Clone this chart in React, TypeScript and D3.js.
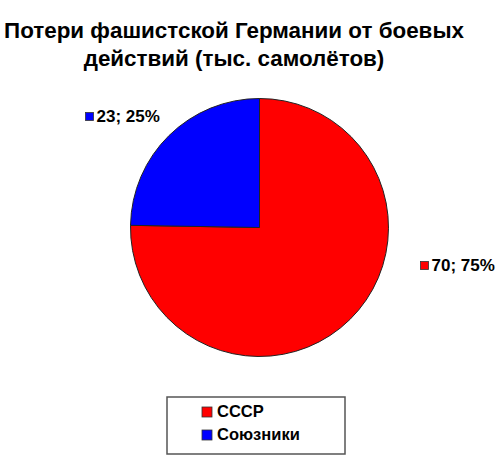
import { useEffect, useRef } from "react";
import * as d3 from "d3";

const categories = ["СССР", "Союзники"];
const values = [70, 23];
const percents = ["75%", "25%"];
const colors = ["#ff0000", "#0000ff"];
const titleLines = ["Потери фашистской Германии от боевых", "действий (тыс. самолётов)"];

export default function App() {
  const ref = useRef<SVGSVGElement>(null);

  useEffect(() => {
    document.body.style.margin = "0";
    const svg = d3.select(ref.current);
    svg.selectAll("*").remove();

    const font = "Arial, 'Liberation Sans', sans-serif";
    const cx = 259.5;
    const cy = 227.5;
    const r = 129;

    svg
      .append("text")
      .attr("x", 234)
      .attr("y", 38)
      .attr("text-anchor", "middle")
      .style("font-family", font)
      .style("font-weight", "bold")
      .style("font-size", "22.4px")
      .selectAll("tspan")
      .data(titleLines)
      .enter()
      .append("tspan")
      .attr("x", 234)
      .attr("dy", (d, i) => (i === 0 ? 0 : 28))
      .text((d) => d);

    const pie = d3
      .pie<number>()
      .sort(null)
      .value((d) => d)
      .startAngle(0)
      .endAngle(2 * Math.PI);
    const arcs = pie(values);
    const arc = d3.arc<d3.PieArcDatum<number>>().innerRadius(0).outerRadius(r);

    const g = svg.append("g").attr("transform", `translate(${cx},${cy})`);
    g.selectAll("path")
      .data(arcs)
      .enter()
      .append("path")
      .attr("d", arc)
      .attr("fill", (d, i) => colors[i])
      .attr("stroke", "#222")
      .attr("stroke-width", 1);

    // data labels, placed like Excel did
    const labelPos = [
      { x: cx + 161, y: cy + 43 },
      { x: cx - 174, y: cy - 106 },
    ];
    const labels = svg
      .selectAll(".lbl")
      .data(arcs)
      .enter()
      .append("g")
      .attr("class", "lbl")
      .attr("transform", (d, i) => `translate(${labelPos[i].x},${labelPos[i].y})`);
    labels
      .append("rect")
      .attr("x", 0)
      .attr("y", -9)
      .attr("width", 8)
      .attr("height", 8)
      .attr("fill", (d, i) => colors[i])
      .attr("stroke", "#333")
      .attr("stroke-width", 0.8);
    labels
      .append("text")
      .attr("x", 11)
      .attr("y", 0)
      .style("font-family", font)
      .style("font-weight", "bold")
      .style("font-size", "17px")
      .text((d, i) => `${d.data}; ${percents[i]}`);

    // legend
    const lg = svg.append("g").attr("transform", "translate(167,397)");
    lg.append("rect")
      .attr("width", 178)
      .attr("height", 57)
      .attr("fill", "#fff")
      .attr("stroke", "#555")
      .attr("stroke-width", 1.5);
    const items = lg
      .selectAll(".item")
      .data(categories)
      .enter()
      .append("g")
      .attr("class", "item")
      .attr("transform", (d, i) => `translate(35,${20 + i * 23})`);
    items
      .append("rect")
      .attr("x", 0)
      .attr("y", -10)
      .attr("width", 10)
      .attr("height", 10)
      .attr("fill", (d, i) => colors[i])
      .attr("stroke", "#333")
      .attr("stroke-width", 0.8);
    items
      .append("text")
      .attr("x", 15)
      .attr("y", 0)
      .style("font-family", font)
      .style("font-weight", "bold")
      .style("font-size", "16.5px")
      .text((d) => d);
  }, []);

  return <svg ref={ref} width={500} height={473} style={{ display: "block", background: "#fff" }} />;
}
